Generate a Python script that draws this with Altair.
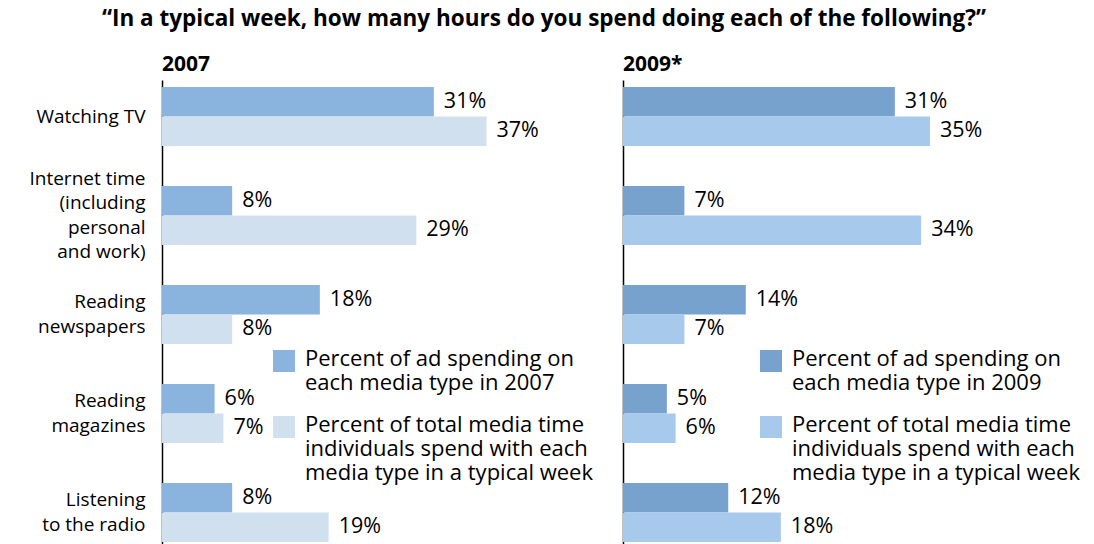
import altair as alt
import pandas as pd

categories = [
    "Watching TV",
    "Internet time|(including|personal|and work)",
    "Reading|newspapers",
    "Reading|magazines",
    "Listening|to the radio",
]
ad_share_2007 = [31, 8, 18, 6, 8]
time_share_2007 = [37, 29, 8, 7, 19]
ad_share_2009 = [31, 7, 14, 5, 12]
time_share_2009 = [35, 34, 7, 6, 18]

series_2007 = [
    "Percent of ad spending on|each media type in 2007",
    "Percent of total media time|individuals spend with each|media type in a typical week",
]
series_2009 = [
    "Percent of ad spending on|each media type in 2009",
    "Percent of total media time|individuals spend with each|media type in a typical week",
]
colors_2007 = ["#8ab4de", "#d0e0ef"]
colors_2009 = ["#76a2cd", "#a6c9ec"]
panel_titles = ["2007", "2009*"]
main_title = "\u201cIn a typical week, how many hours do you spend doing each of the following?\u201d"

PX_PER_PCT = 8.77
FONT = "Open Sans"
FS_AXIS = 19
FS_LEGEND = 22
FS_VALUE = 21.5
AXIS_LINE = 24.5
H = 469
# square symbol, shifted down by half a label line so it sits beside the first line
SQUARE = "M-1,0.09H1V2.09H-1Z"


def make_df(ads, times, series):
    rows = []
    for c, a, t in zip(categories, ads, times):
        rows.append({"category": c, "series": series[0], "value": a, "label": f"{a}%"})
        rows.append({"category": c, "series": series[1], "value": t, "label": f"{t}%"})
    return pd.DataFrame(rows)


def panel(df, series, colors, title, width, show_labels, legend_x, legend_y):
    if show_labels:
        y_axis = alt.Axis(
            title=None, ticks=False, domain=True, domainColor="black", domainWidth=1.5,
            labelFont=FONT, labelFontSize=FS_AXIS, labelColor="black", labelPadding=17,
            labelExpr="split(datum.label, '|')", labelLineHeight=AXIS_LINE,
            labelOffset=alt.ExprRef(
                f"-(length(split(datum.label, '|')) - 1) * {AXIS_LINE / 2}"),
            minExtent=154, maxExtent=154, labelLimit=0,
        )
    else:
        y_axis = alt.Axis(
            title=None, ticks=False, labels=False, domain=True, domainColor="black",
            domainWidth=1.5, minExtent=0, maxExtent=0,
        )
    base = alt.Chart(df).encode(
        y=alt.Y("category:N", sort=categories,
                scale=alt.Scale(paddingInner=0.404, paddingOuter=0.0707), axis=y_axis),
        yOffset=alt.YOffset("series:N", sort=series,
                            scale=alt.Scale(paddingInner=0, paddingOuter=0)),
        x=alt.X("value:Q", axis=None,
                scale=alt.Scale(domain=[0, width / PX_PER_PCT], nice=False, zero=True)),
    )
    bars = base.mark_bar(cornerRadius=0).encode(
        color=alt.Color(
            "series:N",
            scale=alt.Scale(domain=series, range=colors),
            legend=alt.Legend(
                title=None, orient="none", legendX=legend_x, legendY=legend_y,
                direction="vertical", padding=0,
                symbolType=SQUARE, symbolSize=484, symbolStrokeWidth=0, symbolOpacity=1,
                labelFont=FONT, labelFontSize=FS_LEGEND, labelColor="black", labelLimit=0,
                labelExpr="split(datum.label, '|')", labelBaseline="top", labelOffset=10,
                rowPadding=10,
            ),
        )
    )
    labels = base.mark_text(
        align="left", baseline="middle", dx=10, font=FONT, fontSize=FS_VALUE, color="black"
    ).encode(text="label:N")
    return (bars + labels).properties(
        width=width, height=H,
        title=alt.TitleParams(title, anchor="start", frame="group", font=FONT,
                              fontSize=21, fontWeight="bold", color="black", offset=5),
    )


left = panel(make_df(ad_share_2007, time_share_2007, series_2007), series_2007, colors_2007,
             panel_titles[0], 450, True, 111, 258)
right = panel(make_df(ad_share_2009, time_share_2009, series_2009), series_2009, colors_2009,
              panel_titles[1], 455, False, 137, 258)

chart = (
    alt.hconcat(left, right, spacing=11)
    .resolve_scale(color="independent", x="independent", y="independent",
                   yOffset="independent")
    .resolve_legend(color="independent")
    .properties(
        padding=0,
        title=alt.TitleParams(main_title, anchor="middle", font=FONT, fontSize=22.5,
                              fontWeight="bold", color="black", offset=23.5),
    )
    .configure_view(stroke=None)
)

chart.save("out.html", embed_options={"renderer": "svg", "actions": False})
